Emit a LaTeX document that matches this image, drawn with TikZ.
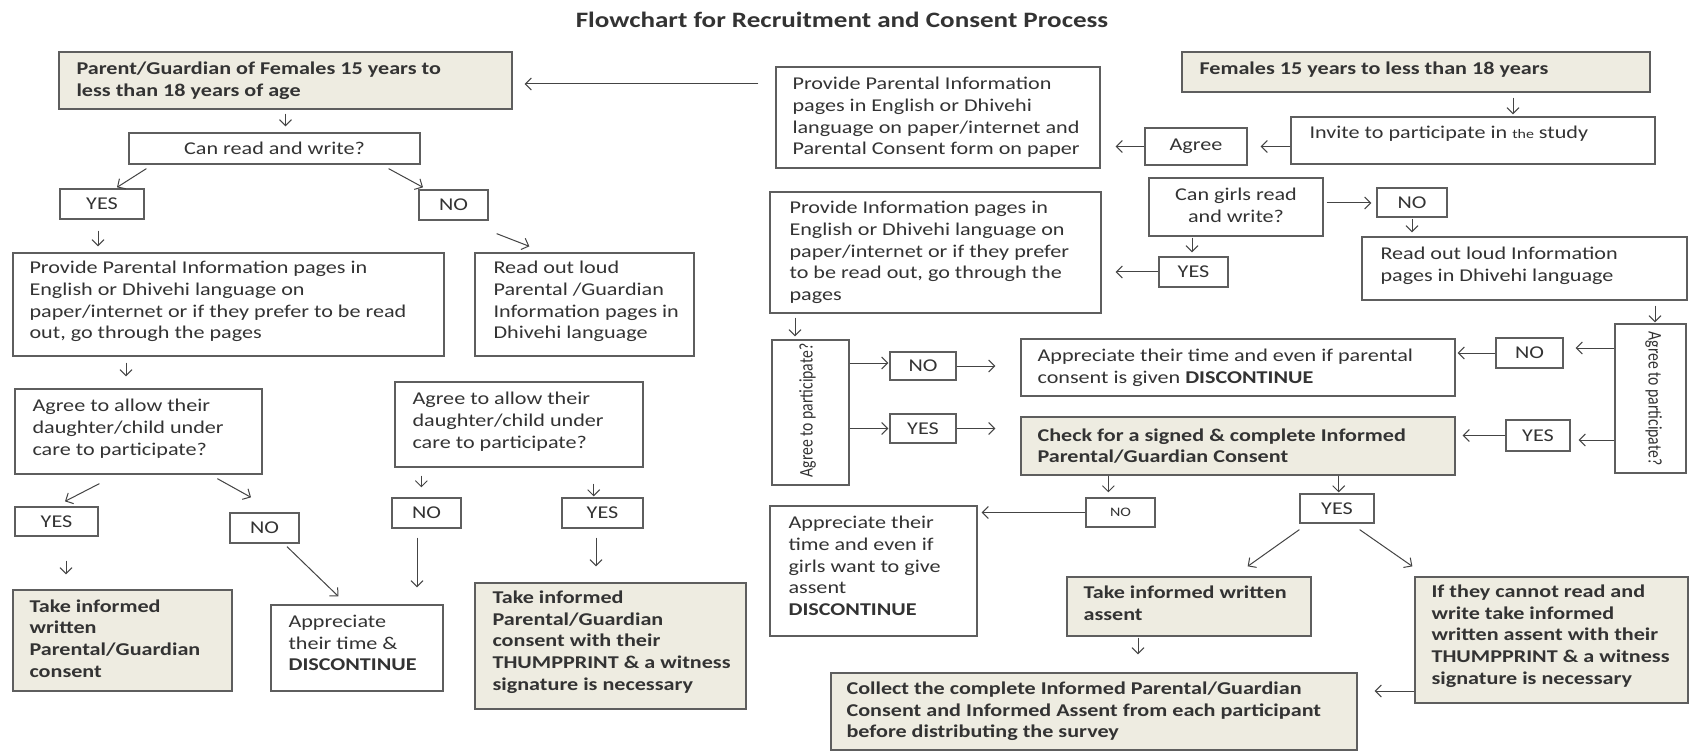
\documentclass[tikz,border=0pt]{standalone}
\usepackage{graphicx}
\usepackage{fontspec}
\setmainfont[FakeStretch=1.23]{Carlito}
\newfontfamily\rotfont{Carlito}
\usetikzlibrary{arrows.meta,calc}
\definecolor{beige}{HTML}{EEECE1}
\definecolor{edge}{HTML}{5E5E5E}
\definecolor{ink}{HTML}{333333}
\definecolor{arrc}{HTML}{444444}
\newcommand\mkbox[6]{%
  \pgfmathsetmacro\mbcx{(#3+#5)/2}%
  \pgfmathsetmacro\mbcy{-(#4+#6)/2}%
  \pgfmathsetmacro\mbw{#5-#3}%
  \pgfmathsetmacro\mbh{#6-#4}%
  \node[#1,minimum width=\mbw pt,minimum height=\mbh pt] (#2) at (\mbcx,\mbcy) {};}
\newcommand\rottext[1]{{\rotfont\fontsize{15.7}{18}\selectfont\scalebox{1}[1.23]{#1}}}
\begin{document}
\begin{tikzpicture}[x=1pt,y=1pt,
  box/.style={draw=edge,line width=1.3pt,fill=white,inner sep=0pt,rectangle},
  bbox/.style={box,fill=beige},
  txt/.style={font=\fontsize{18}{21.7}\selectfont,text=ink,inner sep=0pt,align=left,anchor=west},
  btxt/.style={txt,font=\fontsize{18}{21.7}\selectfont\bfseries},
  ctxt/.style={txt,anchor=center,align=center},
  arr/.style={draw=arrc,line width=1pt,-{Straight Barb[length=6pt,width=12pt]}}]
\fill[white] (0,0) rectangle (1692,-751);
\useasboundingbox (0,0) rectangle (1692,-751);

\node[font=\fontsize{22}{26}\selectfont\bfseries,text=ink,anchor=base] (title) at (842,-28) {Flowchart for Recruitment and Consent Process};

% ---------- left half ----------
\mkbox{bbox}{parent}{59}{52}{512}{109}
\node[btxt] (parent-t) at ([xshift=18pt]parent.west) {Parent/Guardian of Females 15 years to\\less than 18 years of age};
\mkbox{box}{canrw}{129}{133}{420}{164}
\node[ctxt] (canrw-t) at (canrw) {Can read and write?};
\mkbox{box}{yes1}{60}{189}{144}{219}
\node[ctxt] at (yes1) {YES};
\mkbox{box}{no1}{419}{190}{488}{220}
\node[ctxt] at (no1) {NO};
\mkbox{box}{prov1}{13}{253}{444}{356}
\node[txt] (prov1-t) at ([xshift=17pt,yshift=3pt]prov1.west) {Provide Parental Information pages in\\English or Dhivehi language on\\paper/internet or if they prefer to be read\\out, go through the pages};
\mkbox{box}{read1}{475}{253}{694}{356}
\node[txt] (read1-t) at ([xshift=19pt,yshift=3pt]read1.west) {Read out loud\\Parental /Guardian\\Information pages in\\Dhivehi language};
\mkbox{box}{agree1}{15}{389}{262}{474}
\node[txt] (agree1-t) at ([xshift=18pt,yshift=3pt]agree1.west) {Agree to allow their\\daughter/child under\\care to participate?};
\mkbox{box}{agree2}{395}{382}{643}{467}
\node[txt] (agree2-t) at ([xshift=18pt,yshift=3pt]agree2.west) {Agree to allow their\\daughter/child under\\care to participate?};
\mkbox{box}{yes2}{15}{507}{98}{536}
\node[ctxt] at (yes2) {YES};
\mkbox{box}{no2}{230}{513}{299}{543}
\node[ctxt] at (no2) {NO};
\mkbox{box}{no3}{392}{498}{461}{528}
\node[ctxt] at (no3) {NO};
\mkbox{box}{yes3}{562}{498}{643}{528}
\node[ctxt] at (yes3) {YES};
\mkbox{bbox}{takel}{13}{590}{232}{691}
\node[btxt] (takel-t) at ([xshift=17pt,yshift=2pt]takel.west) {Take informed\\written\\Parental/Guardian\\consent};
\mkbox{box}{appr1}{271}{605}{443}{691}
\node[txt] (appr1-t) at ([xshift=18pt,yshift=5pt]appr1.west) {Appreciate\\their time \&\\\textbf{DISCONTINUE}};
\mkbox{bbox}{thump}{475}{583}{746}{709}
\node[btxt] (thump-t) at ([xshift=18pt,yshift=4pt]thump.west) {Take informed\\Parental/Guardian\\consent with their\\THUMPPRINT \& a witness\\signature is necessary};

% ---------- right half ----------
\mkbox{box}{provp}{776}{67}{1100}{168}
\node[txt] (provp-t) at ([xshift=17pt]provp.west) {Provide Parental Information\\pages in English or Dhivehi\\language on paper/internet and\\Parental Consent form on paper};
\mkbox{bbox}{females}{1182}{52}{1650}{92}
\node[btxt] (females-t) at ([xshift=18pt,yshift=2pt]females.west) {Females 15 years to less than 18 years};
\mkbox{box}{invite}{1291}{117}{1655}{164}
\node[txt] (invite-t) at ([xshift=19pt,yshift=7pt]invite.west) {Invite to participate in {\fontsize{13}{13}\selectfont the} study};
\mkbox{box}{agree}{1145}{128}{1247}{165}
\node[ctxt] at (agree) {Agree};
\mkbox{box}{provi}{770}{192}{1101}{313}
\node[txt] (provi-t) at ([xshift=20pt]provi.west) {Provide Information pages in\\English or Dhivehi language on\\paper/internet or if they prefer\\to be read out, go through the\\pages};
\mkbox{box}{cang}{1149}{178}{1323}{236}
\node[ctxt] (cang-t) at ([yshift=2pt]cang.center) {Can girls read\\and write?};
\mkbox{box}{nog}{1377}{188}{1447}{217}
\node[ctxt] at (nog) {NO};
\mkbox{box}{readg}{1362}{237}{1687}{300}
\node[txt] (readg-t) at ([xshift=19pt,yshift=3pt]readg.west) {Read out loud Information\\pages in Dhivehi language};
\mkbox{box}{yesg}{1159}{257}{1228}{287}
\node[ctxt] at (yesg) {YES};
\mkbox{box}{vagl}{772}{340}{849}{485}
\node[ctxt,rotate=90] (vagl-t) at ([xshift=-3pt,yshift=2pt]vagl.center) {\rottext{Agree to participate?}};
\mkbox{box}{noa}{890}{352}{956}{380}
\node[ctxt] at (noa) {NO};
\mkbox{box}{yesa}{890}{414}{956}{443}
\node[ctxt] at (yesa) {YES};
\mkbox{box}{apprp}{1021}{339}{1455}{396}
\node[txt] (apprp-t) at ([xshift=17pt]apprp.west) {Appreciate their time and even if parental\\consent is given \textbf{DISCONTINUE}};
\mkbox{bbox}{check}{1021}{417}{1455}{475}
\node[btxt] (check-t) at ([xshift=17pt]check.west) {Check for a signed \& complete Informed\\Parental/Guardian Consent};
\mkbox{box}{vagr}{1615}{324}{1686}{473}
\node[ctxt,rotate=-90] (vagr-t) at ([xshift=3pt]vagr.center) {\rottext{Agree to participate?}};
\mkbox{box}{nor}{1496}{338}{1563}{368}
\node[ctxt] at (nor) {NO};
\mkbox{box}{yesr}{1506}{420}{1570}{451}
\node[ctxt] at (yesr) {YES};
\mkbox{box}{noc}{1086}{498}{1155}{527}
\node[ctxt,font=\fontsize{13}{13}\selectfont] at (noc) {NO};
\mkbox{box}{yesc}{1300}{494}{1374}{523}
\node[ctxt] at (yesc) {YES};
\mkbox{box}{apprg}{770}{506}{977}{636}
\node[txt] (apprg-t) at ([xshift=19pt,yshift=5pt]apprg.west) {Appreciate their\\time and even if\\girls want to give\\assent\\\textbf{DISCONTINUE}};
\mkbox{bbox}{takea}{1067}{577}{1311}{636}
\node[btxt] (takea-t) at ([xshift=17pt,yshift=3pt]takea.west) {Take informed written\\assent};
\mkbox{bbox}{ifb}{1415}{577}{1688}{703}
\node[btxt] (ifb-t) at ([xshift=17pt,yshift=4pt]ifb.west) {If they cannot read and\\write take informed\\written assent with their\\THUMPPRINT \& a witness\\signature is necessary};
\mkbox{bbox}{collect}{831}{673}{1357}{750}
\node[btxt] (collect-t) at ([xshift=16pt]collect.west) {Collect the complete Informed Parental/Guardian\\Consent and Informed Assent from each participant\\before distributing the survey};

% ---------- connectors, left ----------
\draw[arr,shorten <=17pt,shorten >=12pt] ([yshift=-3.5pt]parent.east -| provp.west) -- ([yshift=-3.5pt]parent.east);
\draw[arr,shorten <=4pt,shorten >=6pt] (parent.south) -- (parent.south |- canrw.north);
\draw[arr] ([shift={(18,-4)}]canrw.south west) -- ([shift={(15,1)}]yes1.north);
\draw[arr] ([shift={(-32,-4)}]canrw.south east) -- ([shift={(-30.5,2)}]no1.north);
\draw[arr,shorten <=11pt,shorten >=6pt] ([xshift=-4pt]yes1.south) -- ([xshift=-4pt]yes1.south |- prov1.north);
\draw[arr] ([shift={(8,-13)}]no1.south east) -- ([shift={(55,6)}]read1.north west);
\draw[arr,shorten <=6pt,shorten >=12pt] ([xshift=-102.5pt]prov1.south) -- ([xshift=-102.5pt]prov1.south |- agree1.north);
\draw[arr] ([shift={(85,-9)}]agree1.south west) -- ([shift={(8.5,5)}]yes2.north);
\draw[arr] ([shift={(203,-4)}]agree1.south west) -- ([shift={(-13.5,15)}]no2.north);
\draw[arr,shorten <=8pt,shorten >=10pt] ([xshift=27pt]agree2.south west) -- ([xshift=27pt]agree2.south west |- no3.north);
\draw[arr,shorten <=16pt,shorten >=1pt] ([xshift=-50pt]agree2.south east) -- ([xshift=-50pt]agree2.south east |- yes3.north);
\draw[arr,shorten <=24pt,shorten >=15pt] ([xshift=9.5pt]yes2.south) -- ([xshift=9.5pt]yes2.south |- takel.north);
\draw[arr] ([shift={(22.5,-3)}]no2.south) -- ([shift={(68,8)}]appr1.north west);
\draw[arr,shorten <=9pt,shorten >=17pt] ([xshift=-9.5pt]no3.south) -- ([xshift=-9.5pt]no3.south |- appr1.north);
\draw[arr,shorten <=9pt,shorten >=16pt] ([xshift=-6.5pt]yes3.south) -- ([xshift=-6.5pt]yes3.south |- thump.north);

% ---------- connectors, right ----------
\draw[arr,shorten <=5pt,shorten >=2pt] ([xshift=97pt]females.south) -- ([xshift=97pt]females.south |- invite.north);
\draw[arr,shorten >=13pt] (invite.west |- agree.east) -- (agree.east);
\draw[arr,shorten >=15pt] (agree.west) -- (agree.west -| provp.east);
\draw[arr,shorten <=3pt,shorten >=5pt] ([yshift=4pt]cang.east) -- ([yshift=4pt]cang.east -| nog.west);
\draw[arr,shorten <=1pt,shorten >=4pt] (nog.south) -- (nog.south |- readg.north);
\draw[arr,shorten <=1pt,shorten >=4pt] ([xshift=-44pt]cang.south) -- ([xshift=-44pt]cang.south |- yesg.north);
\draw[arr,shorten >=14pt] (yesg.west) -- (yesg.west -| provi.east);
\draw[arr,shorten <=5pt,shorten >=1pt] ([xshift=130.5pt]readg.south) -- ([xshift=130.5pt]readg.south |- vagr.north);
\draw[arr,shorten >=12pt] ([yshift=5pt]nor.east -| vagr.west) -- ([yshift=5pt]nor.east);
\draw[arr,shorten >=2pt] (nor.west) -- (nor.west -| apprp.east);
\draw[arr,shorten >=8pt] ([yshift=-4.5pt]yesr.east -| vagr.west) -- ([yshift=-4.5pt]yesr.east);
\draw[arr,shorten >=7pt] (yesr.west) -- (yesr.west -| check.east);
\draw[arr,shorten <=4pt,shorten >=3pt] ([xshift=-140.5pt]provi.south) -- ([xshift=-140.5pt]provi.south |- vagl.north);
\draw[arr,shorten >=1pt] ([yshift=3pt]noa.west -| vagl.east) -- ([yshift=3pt]noa.west);
\draw[arr,shorten >=25pt] (noa.east) -- (noa.east -| apprp.west);
\draw[arr,shorten >=1pt] (yesa.west -| vagl.east) -- (yesa.west);
\draw[arr,shorten >=25pt] (yesa.east) -- (yesa.east -| check.west);
\draw[arr,shorten >=5pt] ([xshift=88pt]check.south west) -- ([xshift=88pt]check.south west |- noc.north);
\draw[arr,shorten >=1pt] ([xshift=-117pt]check.south east) -- ([xshift=-117pt]check.south east |- yesc.north);
\draw[arr,shorten >=4pt] (noc.west) -- (noc.west -| apprg.east);
\draw[arr] ([shift={(0,-6)}]yesc.south west) -- ([shift={(-64,10)}]takea.north east);
\draw[arr] ([shift={(-15,-6)}]yesc.south east) -- ([shift={(-2,10)}]ifb.north west);
\draw[arr,shorten <=1pt,shorten >=18pt] ([xshift=-51pt]takea.south) -- ([xshift=-51pt]takea.south |- collect.north);
\draw[arr,shorten >=17pt] ([yshift=20.5pt]collect.east -| ifb.west) -- ([yshift=20.5pt]collect.east);
\end{tikzpicture}
\end{document}
